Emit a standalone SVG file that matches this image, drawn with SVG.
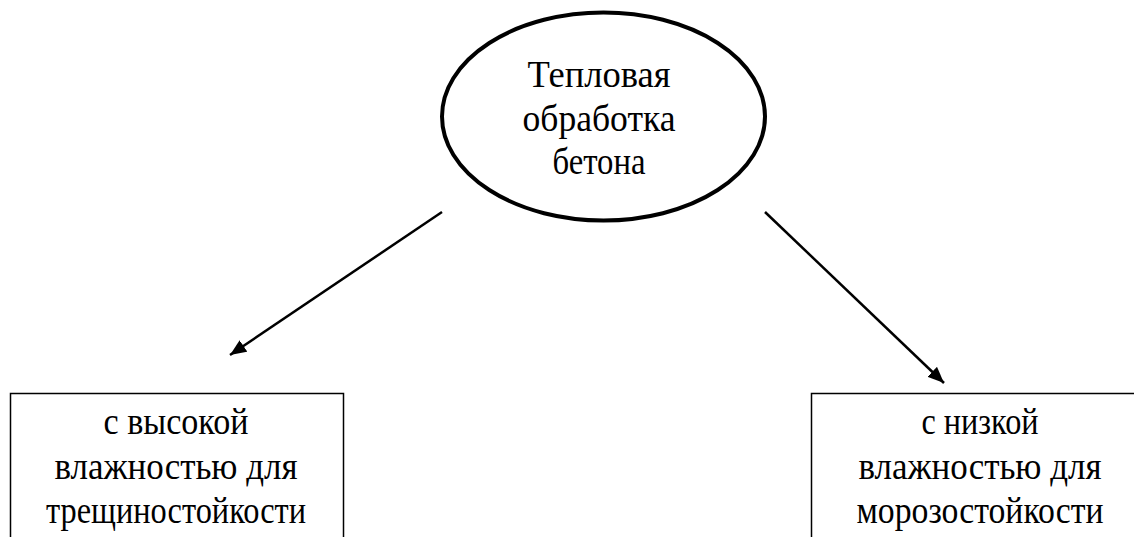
<svg xmlns="http://www.w3.org/2000/svg" width="1134" height="537" viewBox="0 0 1134 537">
<style>
text{font-family:"Liberation Serif","Times New Roman",serif;fill:#000;text-anchor:middle}
.t1{font-size:38px}
.t2{font-size:38px}
.shape{fill:#fff;stroke:#000}
.conn{stroke:#000;stroke-width:2.5;fill:none;marker-end:url(#ah)}
</style>
<defs>
<marker id="ah" viewBox="0 0 10 10" refX="10" refY="5" markerWidth="6.5" markerHeight="5.5" markerUnits="strokeWidth" orient="auto" preserveAspectRatio="none">
<path d="M0,0 L10,5 L0,10 z" fill="#000"/>
</marker>
</defs>
<rect width="1134" height="537" fill="#fff"/>
<g id="root">
<ellipse class="shape" cx="603.5" cy="116.5" rx="161.5" ry="104" stroke-width="4"/>
<text class="t1" x="599" y="87" textLength="143" lengthAdjust="spacingAndGlyphs">Тепловая</text>
<text class="t1" x="599" y="131" textLength="153" lengthAdjust="spacingAndGlyphs">обработка</text>
<text class="t1" x="599" y="174" textLength="93" lengthAdjust="spacingAndGlyphs">бетона</text>
</g>
<g id="left">
<rect class="shape" x="10.5" y="393.5" width="333" height="160" stroke-width="1.5"/>
<text class="t2" x="176" y="434" textLength="145" lengthAdjust="spacingAndGlyphs">с высокой</text>
<text class="t2" x="176" y="479" textLength="243" lengthAdjust="spacingAndGlyphs">влажностью для</text>
<text class="t2" x="176" y="523" textLength="260" lengthAdjust="spacingAndGlyphs">трещиностойкости</text>
</g>
<g id="right">
<rect class="shape" x="811.5" y="393.5" width="333" height="160" stroke-width="1.5"/>
<text class="t2" x="980" y="434" textLength="117" lengthAdjust="spacingAndGlyphs">с низкой</text>
<text class="t2" x="980" y="479" textLength="243" lengthAdjust="spacingAndGlyphs">влажностью для</text>
<text class="t2" x="980" y="523" textLength="247" lengthAdjust="spacingAndGlyphs">морозостойкости</text>
</g>
<g id="connectors">
<line class="conn" x1="442" y1="212" x2="230" y2="355"/>
<line class="conn" x1="765" y1="212" x2="944" y2="383"/>
</g>
</svg>
